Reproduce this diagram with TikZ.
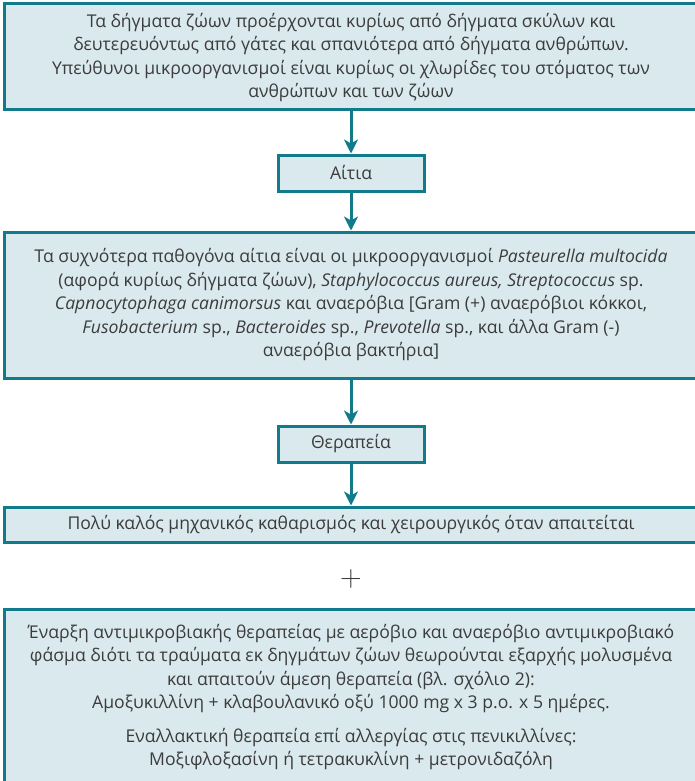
\documentclass[tikz,border=0pt]{standalone}
\usepackage{fontspec}
\setmainfont{Open Sans}
\newfontfamily\lmfont{Latin Modern Roman}
\usetikzlibrary{arrows.meta}
\definecolor{boxline}{HTML}{117A8B}
\definecolor{boxfill}{HTML}{D9E9EE}
\definecolor{txtcol}{HTML}{3C3C3C}
\tikzset{
  box/.style={draw=boxline, fill=boxfill, line width=3pt, rectangle, inner sep=0pt},
  widebox/.style={box, minimum width=800pt},
  smallbox/.style={box, minimum width=146pt, minimum height=36pt,
    text=txtcol, font=\fontsize{17.6}{23.5}\selectfont},
  txt/.style={align=center, text=txtcol, inner sep=0pt,
    font=\fontsize{17.6}{23.5}\selectfont},
  arr/.style={draw=boxline, line width=3pt,
    -{Stealth[length=14pt, width=14pt, inset=4pt]}}
}
\begin{document}
\begin{tikzpicture}[x=1pt, y=-1pt]
  \useasboundingbox (0,0) rectangle (694,781);
  \fill[white] (0,0) rectangle (694,781);

  % frames of the wide panels (their right side runs off the page)
  \node[widebox, minimum height=106pt] (origin) at (404,57) {};
  \node[widebox, minimum height=146pt] (pathogens) at (404,305) {};
  \node[widebox, minimum height=35pt] (surgery) at (404,524.5) {};
  \node[widebox, anchor=north, minimum height=200pt] (antibio) at (404,608) {};

  % small headings
  \node[smallbox] (causes) at (351,173) {Αίτια};
  \node[smallbox] (therapy) at (351,444) {Θεραπεία};

  % panel texts
  \node[txt] (origintext) at (351,57.5)
    {Τα δήγματα ζώων προέρχονται κυρίως από δήγματα σκύλων και\\
     δευτερευόντως από γάτες και σπανιότερα από δήγματα ανθρώπων.\\
     Υπεύθυνοι μικροοργανισμοί είναι κυρίως οι χλωρίδες του στόματος των\\
     ανθρώπων και των ζώων};

  \node[txt] (pathogenstext) at (351,305)
    {Τα συχνότερα παθογόνα αίτια είναι οι μικροοργανισμοί \textit{Pasteurella multocida}\\
     (αφορά κυρίως δήγματα ζώων), \textit{Staphylococcus aureus, Streptococcus} sp.\\
     \textit{Capnocytophaga canimorsus} και αναερόβια [Gram (+) αναερόβιοι κόκκοι,\\
     \textit{Fusobacterium} sp., \textit{Bacteroides} sp., \textit{Prevotella} sp., και άλλα Gram (-)\\
     αναερόβια βακτήρια]};

  \node[txt] (surgerytext) at (351,524.5)
    {Πολύ καλός μηχανικός καθαρισμός και χειρουργικός όταν απαιτείται};

  \node[text=txtcol, inner sep=0pt, font=\lmfont\fontsize{30}{30}\selectfont] (plus) at (351,579) {+};

  \node[txt, anchor=north] (antibiotext) at (351,624)
    {Έναρξη αντιμικροβιακής θεραπείας με αερόβιο και αναερόβιο αντιμικροβιακό\\
     φάσμα διότι τα τραύματα εκ δηγμάτων ζώων θεωρούνται εξαρχής μολυσμένα\\
     και απαιτούν άμεση θεραπεία (βλ. σχόλιο 2):\\
     Αμοξυκιλλίνη + κλαβουλανικό οξύ 1000 mg x 3 p.o. x 5 ημέρες.\\[10pt]
     Εναλλακτική θεραπεία επί αλλεργίας στις πενικιλλίνες:\\
     Μοξιφλοξασίνη ή τετρακυκλίνη + μετρονιδαζόλη};

  % flow arrows
  \draw[arr] (origin.south -| causes.north) -- (causes.north);
  \draw[arr] (causes) -- (causes |- pathogens.north);
  \draw[arr] (pathogens.south -| therapy.north) -- (therapy.north);
  \draw[arr] (therapy) -- (therapy |- surgery.north);
\end{tikzpicture}
\end{document}
